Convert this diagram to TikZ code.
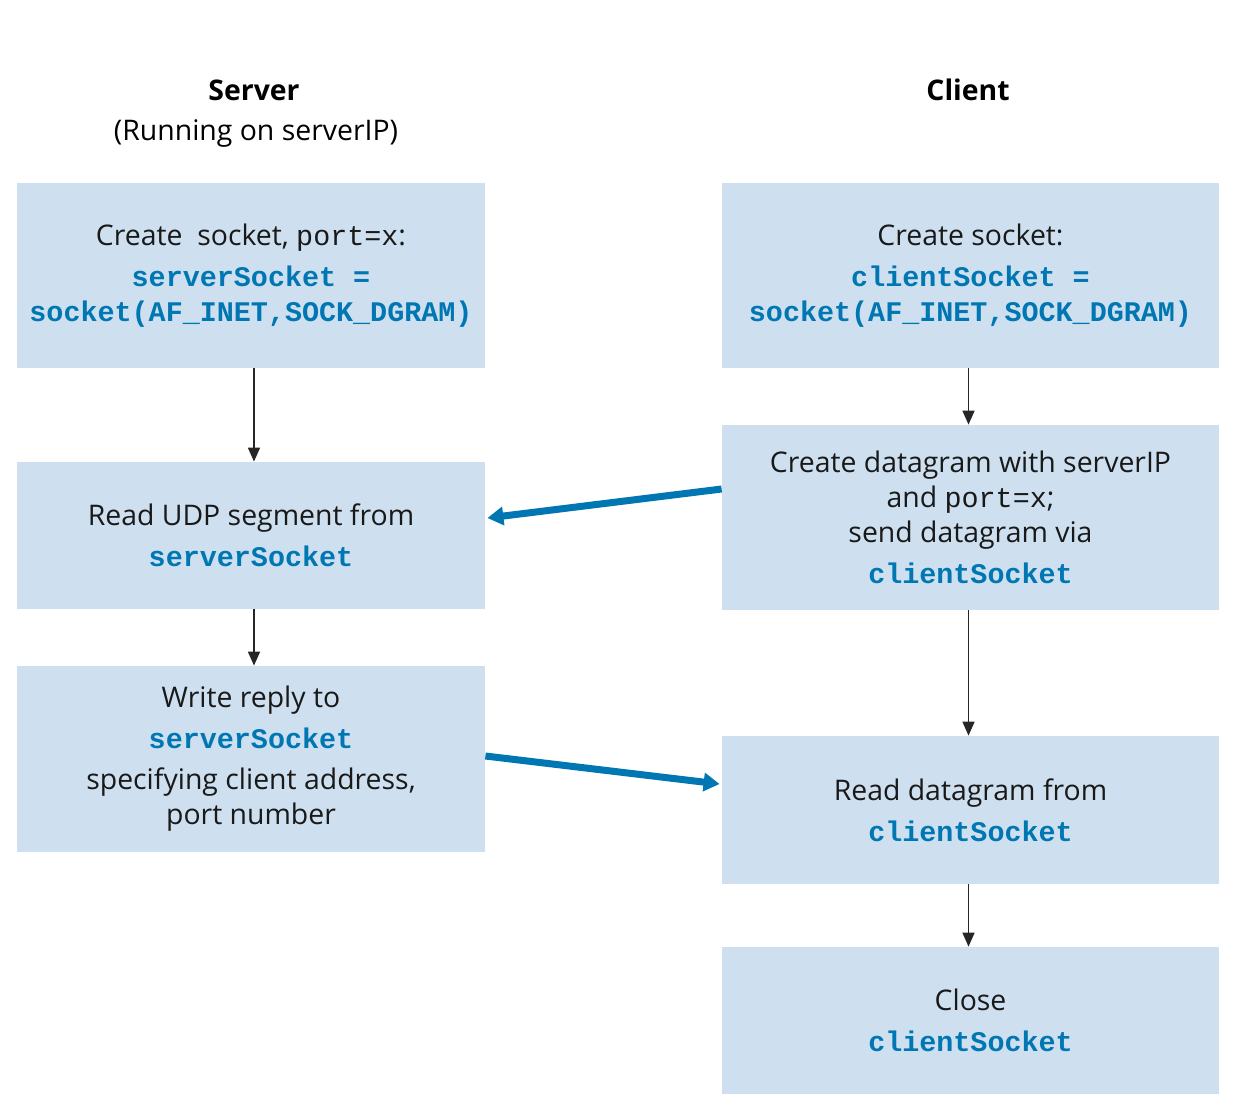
\documentclass[tikz,border=0pt]{standalone}
\usepackage{fontspec}
\setmainfont{Open Sans}
\setmonofont{Liberation Mono}
\usetikzlibrary{arrows.meta}
\definecolor{boxfill}{HTML}{CEE0EF}
\definecolor{codeblue}{HTML}{0077B3}
\newcommand{\code}[1]{{\ttfamily\bfseries\color{codeblue}#1}}
\newcommand{\plaincode}[1]{{\ttfamily #1}}

\begin{document}
\begin{tikzpicture}[x=0.5pt,y=-0.5pt,
  stepbox/.style={fill=boxfill,inner sep=0pt,align=center,font=\fontsize{14.2}{20.5}\selectfont,text=black!90},
  srvbox/.style={stepbox,minimum width=234pt},
  clibox/.style={stepbox,minimum width=248.5pt},
  down/.style={-{Triangle[length=7pt,width=6pt]},line width=0.8pt,black!85},
  flow/.style={-{Triangle[length=8pt,width=9pt]},line width=3.5pt,codeblue}]
\useasboundingbox (0,0) rectangle (1240,1112);
\node[font=\fontsize{14.2}{17}\selectfont\bfseries] (srv) at (254,90) {Server};
\node[font=\fontsize{14.2}{17}\selectfont] (srvip) at (256,133) {(Running on serverIP)};
\node[font=\fontsize{14.2}{17}\selectfont\bfseries] (cli) at (968,90) {Client};
% server side
\node[srvbox,minimum height=92.5pt] (S1) at (251,275.5)
  {Create\ \ socket, \plaincode{port=x}:\\\code{serverSocket =}\\[-3pt]\code{socket(AF\_INET,SOCK\_DGRAM)}};
\node[srvbox,minimum height=73.5pt] (S2) at (251,535.5)
  {Read UDP segment from\\\code{serverSocket}};
\node[srvbox,minimum height=93pt] (S3) at (251,759)
  {Write reply to\\\code{serverSocket}\\specifying client address,\\[-3pt]port number};
% client side
\node[clibox,minimum height=92.5pt] (C1) at (970.5,275.5)
  {Create socket:\\\code{clientSocket =}\\[-3pt]\code{socket(AF\_INET,SOCK\_DGRAM)}};
\node[clibox,minimum height=92.5pt] (C2) at (970.5,517.5)
  {Create datagram with serverIP\\[-3pt]and \plaincode{port=x};\\[-3pt]send datagram via\\\code{clientSocket}};
\node[clibox,minimum height=74pt] (C3) at (970.5,810)
  {Read datagram from\\\code{clientSocket}};
\node[clibox,minimum height=73.5pt] (C4) at (970.5,1020.5)
  {Close\\\code{clientSocket}};
% arrows
\draw[down] ([xshift=1.5pt]S1.south) -- ([xshift=1.5pt]S2.north);
\draw[down] ([xshift=1.5pt]S2.south) -- ([xshift=1.5pt]S3.north);
\draw[down] ([xshift=-1pt]C1.south) -- ([xshift=-1pt]C2.north);
\draw[down] ([xshift=-1pt]C2.south) -- ([xshift=-1pt]C3.north);
\draw[down] ([xshift=-1pt]C3.south) -- ([xshift=-1pt]C4.north);
\draw[flow] ([yshift=14.25pt]C2.west) -- ([yshift=8.75pt,xshift=1pt]S2.east);
\draw[flow] ([yshift=1.5pt]S3.east) -- ([yshift=13pt,xshift=-1pt]C3.west);
\end{tikzpicture}
\end{document}
